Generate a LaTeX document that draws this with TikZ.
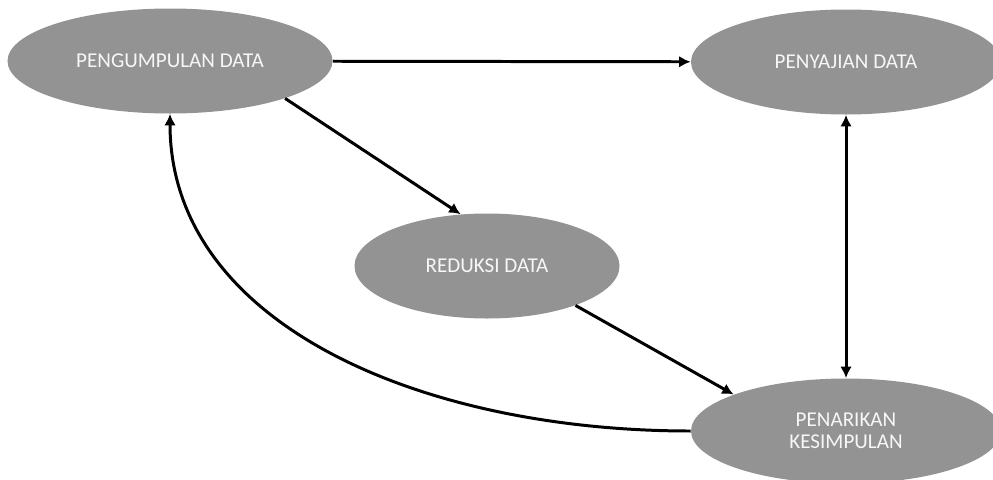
\documentclass[tikz,border=0pt]{standalone}
\usepackage{fontspec}
\setmainfont{Carlito}
\usepackage{tikz}
\usetikzlibrary{shapes.geometric,arrows.meta}

\tikzset{
    stage/.style={ellipse,fill=gray!85!white,draw=none,text=white!94!gray,
        font=\fontsize{12}{12.5}\selectfont,align=center,
        minimum height=2.1cm,inner sep=0pt},
    flow/.style={line width=1.7pt,-{Latex[length=6.5pt,width=6.5pt]}}
}

\begin{document}
\begin{tikzpicture}
        \useasboundingbox (0,0) rectangle (19.86,-9.58);
        \node[stage,minimum width=6.5cm] (pengumpulan) at (3.40,-1.22) {PENGUMPULAN DATA};
        \node[stage,minimum width=6.2cm] (penyajian) at (16.92,-1.24) {PENYAJIAN DATA};
        \node[stage,minimum width=5.3cm] (reduksi) at (9.74,-5.32) {REDUKSI DATA};
        \node[stage,minimum width=6.2cm] (penarikan) at (16.92,-8.62) {PENARIKAN\\KESIMPULAN};

        \draw[flow] (pengumpulan) -- (penyajian);
        \draw[flow] (pengumpulan.-18) -- (reduksi.117);
        \draw[flow] (reduksi.-24) -- (penarikan.162);
        \draw[flow,{Latex[length=6.5pt,width=6.5pt]}-{Latex[length=6.5pt,width=6.5pt]}] (penyajian.south) -- (penarikan.north);
        \draw[flow] (penarikan.west) .. controls +(-5.4,0) and +(0,-4.2) .. (pengumpulan.south);

        \end{tikzpicture}
\end{document}
